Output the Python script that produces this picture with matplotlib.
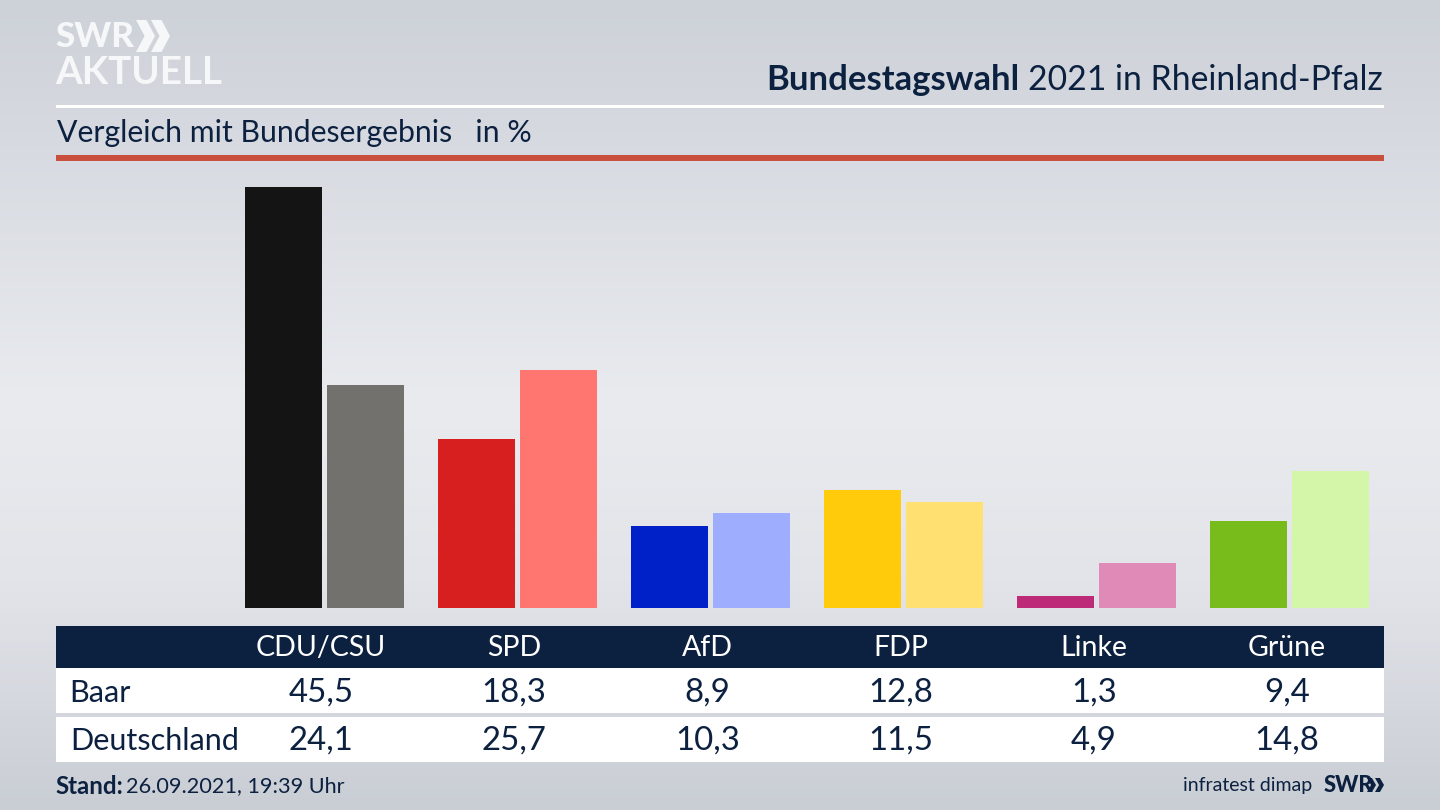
import numpy as np
import matplotlib
matplotlib.use("Agg")
import matplotlib.pyplot as plt
from matplotlib.patches import Rectangle, Polygon
from matplotlib.colors import LinearSegmentedColormap

parties = ["CDU/CSU", "SPD", "AfD", "FDP", "Linke", "Grüne"]
region_name = "Baar"
national_name = "Deutschland"
region_values = [45.5, 18.3, 8.9, 12.8, 1.3, 9.4]
national_values = [24.1, 25.7, 10.3, 11.5, 4.9, 14.8]
region_colors = ["#141414", "#d81f1f", "#0020c8", "#ffcb0a", "#bd2a78", "#78bc1c"]
national_colors = ["#72716e", "#ff7570", "#9fadff", "#ffe070", "#e08ab8", "#d3f6a8"]

NAVY = "#0c2140"
FONT = "Lato"
plt.rcParams["font.family"] = [FONT, "DejaVu Sans"]

fig = plt.figure(figsize=(14.4, 8.1), dpi=100)
bg = fig.add_axes([0, 0, 1, 1])
bg.set_xlim(0, 1440)
bg.set_ylim(810, 0)
bg.axis("off")
cmap = LinearSegmentedColormap.from_list(
    "bg", [(0, "#cdd1d8"), (0.5, "#e9ebef"), (0.72, "#e2e4e9"), (1, "#c9cdd4")])
bg.imshow(np.linspace(0, 1, 256)[:, None], cmap=cmap, aspect="auto",
          extent=[0, 1440, 810, 0], zorder=0)


def T(x, y, s, size, color=NAVY, ha="left", weight="normal", **kw):
    return bg.text(x, y, s, fontsize=size * 0.72, color=color, ha=ha, va="center",
                   weight=weight, zorder=3, **kw)


def R(x0, y0, x1, y1, color):
    bg.add_patch(Rectangle((x0, y0), x1 - x0, y1 - y0, fc=color, ec="none", zorder=2))


def chevrons(x, y0, y1, w, gap, color):
    h = (y1 - y0) / 2
    t = w * 0.55
    for k in range(2):
        a = x + k * gap
        bg.add_patch(Polygon([(a, y0), (a + t, y0), (a + w, y0 + h), (a + t, y1), (a, y1),
                              (a + w - t, y0 + h)], fc=color, ec="none", zorder=3))


# Logo
T(55, 37, "SWR", 35, color="#f6f7f8", weight="black")
chevrons(136, 20, 52, 19, 15, "#f6f7f8")
T(55, 72, "AKTUELL", 38.5, color="#f6f7f8", weight="bold")

# Header
title = T(1383, 80, "2021 in Rheinland-Pfalz", 33.8, ha="right")
fig.canvas.draw()
bb = title.get_window_extent()
T(bb.x0 - 9, 80, "Bundestagswahl", 34.6, ha="right", weight="bold")
R(56, 104.5, 1384, 107.5, "#ffffff")
T(57, 133, "Vergleich mit Bundesergebnis   in %", 30.3)
R(56, 155, 1384, 160.5, "#c9503c")

# Bars
ax = fig.add_axes([228 / 1440, (810 - 608) / 810, 1158.3 / 1440, 438 / 810])
ax.patch.set_alpha(0)
ax.set_xlim(-0.5, 5.5)
ax.set_ylim(0, 438 / 9.25)
ax.axis("off")
x = np.arange(len(parties))
ax.bar(x - 41 / 193, region_values, width=77 / 193, color=region_colors)
ax.bar(x + 41 / 193, national_values, width=77 / 193, color=national_colors)

# Table
R(56, 626, 1384, 668, NAVY)
R(56, 668, 1384, 713, "#ffffff")
R(56, 717, 1384, 762, "#ffffff")
T(69.5, 693, region_name, 30.6)
T(70, 741, national_name, 30.6)
for i, p in enumerate(parties):
    cx = 321 + 193.2 * i
    T(cx, 648, p, 28.5, color="#ffffff", ha="center")
    T(cx, 693, f"{region_values[i]:.1f}".replace(".", ","), 33, ha="center")
    T(cx, 741, f"{national_values[i]:.1f}".replace(".", ","), 33, ha="center")

# Footer
st = T(55, 786, "Stand:", 24, weight="bold")
fig.canvas.draw()
T(st.get_window_extent().x1 + 3, 786, "26.09.2021, 19:39 Uhr", 21.6)
T(1312, 786, "infratest dimap", 19.5, ha="right")
T(1324, 786, "SWR", 22, weight="black")
chevrons(1367, 778, 792, 9, 8, NAVY)

fig.savefig("out.png", dpi=100)
